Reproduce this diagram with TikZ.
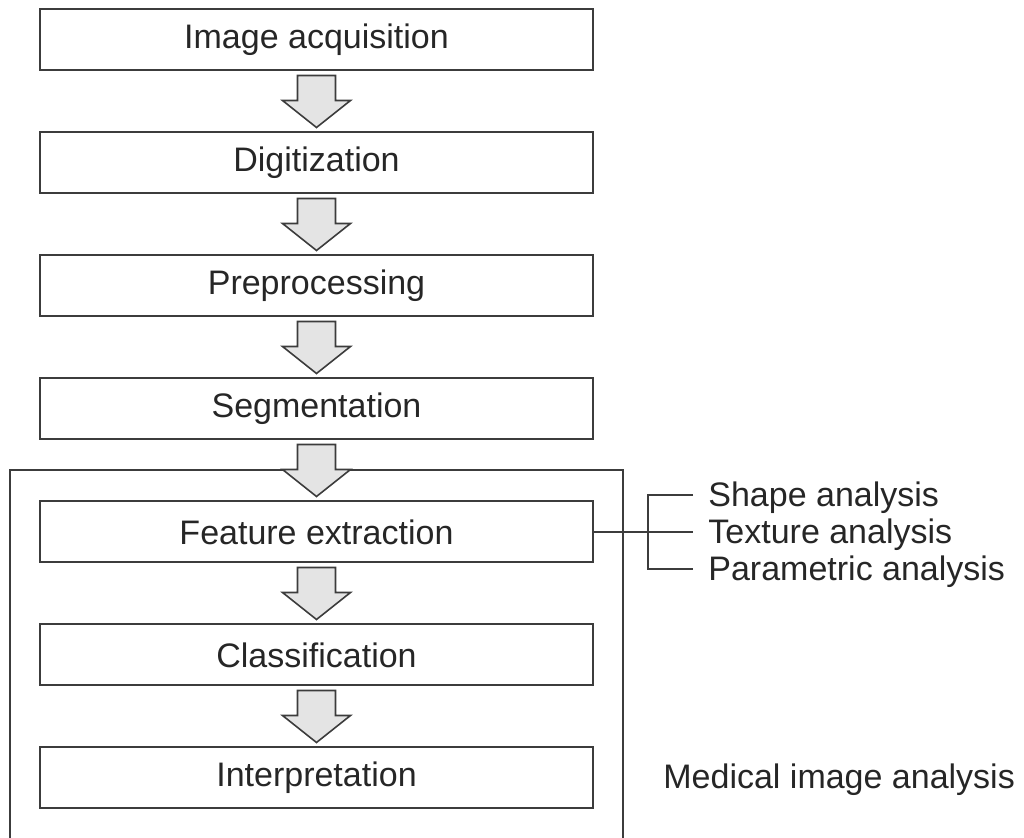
\documentclass[tikz,border=0pt]{standalone}
\usepackage{fontspec}
\setmainfont{Liberation Sans}
\usetikzlibrary{calc}

\definecolor{linegray}{HTML}{3C3C3C}
\definecolor{arrowfill}{HTML}{E4E4E4}
\definecolor{textgray}{HTML}{262626}

\tikzset{
  stagebox/.style={draw=linegray, line width=1pt, minimum width=276.5pt,
    minimum height=30.5pt, inner sep=0pt, text=textgray,
    font=\fontsize{17}{20}\selectfont},
  blockarrow/.style={draw=linegray, fill=arrowfill, line width=0.8pt, line join=miter},
  sidetext/.style={anchor=west, inner sep=0pt, text=textgray,
    font=\fontsize{17}{20}\selectfont},
  thinline/.style={draw=linegray, line width=0.8pt}
}

\begin{document}
\begin{tikzpicture}[x=0.5pt, y=-0.5pt]

  \useasboundingbox (0,0) rectangle (1024,838);

  % Frame round the analysis stages (open at the bottom)
  \draw[thinline] (10,840) -- (10,470) -- (623,470) -- (623,840);

  % Processing stages
  \node[stagebox] (acq)  at (316.5,40)  {Image acquisition};
  \node[stagebox] (dig)  at (316.5,163) {Digitization};
  \node[stagebox] (pre)  at (316.5,286) {Preprocessing};
  \node[stagebox] (seg)  at (316.5,409) {Segmentation};
  \node[stagebox] (feat) at (316.5,532) {Feature extraction};
  \node[stagebox] (cls)  at (316.5,655) {Classification};
  \node[stagebox] (intp) at (316.5,778) {Interpretation};

  % Block arrows between stages
  \foreach \a/\b in {acq/dig, dig/pre, pre/seg, seg/feat, feat/cls, cls/intp} {
    \coordinate (mid) at ($(\a.south)!0.5!(\b.north)$);
    \filldraw[blockarrow] ($(mid)+(-19,-26)$) -- ++(38,0) -- ++(0,25)
      -- ++(15,0) -- ++(-34,27) -- ++(-34,-27) -- ++(15,0) -- cycle;
  }

  % Feature types
  \node[sidetext] (shape) at (708,498) {Shape analysis};
  \node[sidetext] (tex)   at (708,535) {Texture analysis};
  \node[sidetext] (par)   at (708,572) {Parametric analysis};

  \coordinate (brk) at (648,532);
  \draw[thinline] (feat.east) -- (brk) -- ++(45,0);
  \draw[thinline] ($(shape.west)+(-15,-3)$) -| (brk) |- ($(par.west)+(-15,-3)$);

  % Frame label
  \node[sidetext] (med) at (663,780) {Medical image analysis};

\end{tikzpicture}
\end{document}
